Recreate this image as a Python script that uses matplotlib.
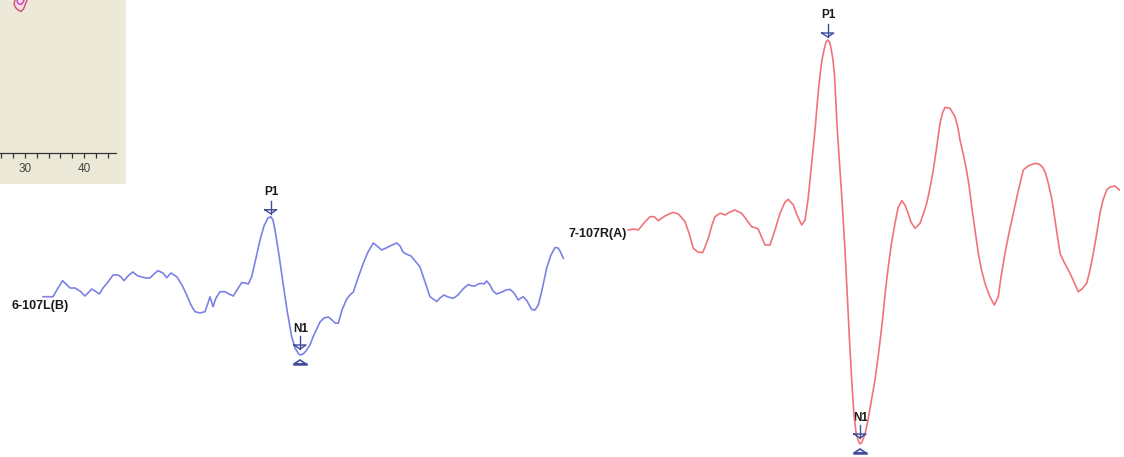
import matplotlib
matplotlib.use('Agg')
import matplotlib.pyplot as plt
import numpy as np

# Trace samples, in screen units (y grows downwards)
blue_x = [43, 53, 58, 62.7, 66, 70, 75, 80, 85, 88, 91.7, 95, 99.3, 103, 108, 113, 118, 121, 124,
          128, 132.7, 138, 142, 146, 150, 154, 158, 163, 166.7, 171, 174, 177, 182, 186.7, 191, 195,
          200, 205, 208, 210, 213, 216, 220, 225, 229, 233.3, 237, 241.7, 245, 248.3, 251.7, 256, 260,
          264, 268, 270.7, 273, 275, 279, 283, 287, 291.7, 295, 298, 300, 303, 306, 310, 313, 316.7,
          320, 324, 328.3, 332, 335, 338.3, 342, 346.7, 350, 353.3, 358, 363.3, 368, 373.3, 377,
          381.7, 386, 390, 396.7, 400, 403, 406, 411, 415, 420, 425, 430, 436.7, 440, 444, 448, 453.3,
          458, 463, 468.3, 472, 475, 478, 481.7, 484, 486.7, 490, 493, 496.7, 502, 506, 510, 514,
          518.3, 521, 523.3, 527, 531.7, 535, 538.3, 542, 546.7, 551, 555, 558, 560, 563.3]
blue_y = [296.7, 296.7, 288, 280.7, 284, 288, 288, 291, 296, 293, 289, 291, 294, 288, 282, 275, 275,
          277, 280.7, 276, 272, 276, 277, 278, 278, 274, 270.7, 273, 277.7, 273, 275, 277, 285, 295,
          305, 311.7, 313, 311.7, 303, 296.7, 306.7, 298, 291.7, 291.7, 294, 296, 290, 282.7, 283,
          284, 276.7, 258, 240, 226, 218, 216.7, 220, 230, 255, 283, 310, 336.7, 348, 353, 355, 354,
          351, 345, 337, 329, 322, 318, 317, 320, 323, 323.3, 310, 299, 295, 292, 278, 263.3, 252,
          243, 246, 250, 248, 246, 243, 246, 252, 254, 256, 260.7, 267, 282, 296.7, 301.5, 298, 295,
          297, 298.3, 295, 289, 284.5, 286, 286, 284, 283.3, 284, 281, 285, 291, 294, 292, 290,
          289.3, 293, 300, 298, 296.7, 301, 309.5, 310, 305, 290, 268, 255, 247.5, 248, 251, 258.3]

red_x = [628.3, 633.3, 638.3, 644, 650, 654.3, 658.3, 662, 665, 669, 673.3, 678.3, 682, 685, 689,
         693.3, 698, 702.7, 705, 708.3, 712, 715, 720, 723, 725, 730, 735, 741.7, 746, 751.7, 756,
         758.3, 762, 765, 770, 775, 780, 785, 788.3, 793.3, 797, 801.7, 805, 808, 810, 813, 815,
         818, 820, 822, 824, 826, 827.7, 829.5, 831, 833, 834.5, 837.3, 840, 842, 845, 847, 849.5,
         851.7, 854, 856, 858, 860, 862, 865, 868, 871.5, 875, 879, 882.7, 885.5, 888.3, 891.5,
         895, 898, 901.7, 905, 908, 911, 915, 920, 923, 926.7, 930, 933.3, 937, 940, 942.5, 945,
         950, 955, 958, 960, 963, 966, 969, 971.7, 975, 978.3, 981.5, 985, 990, 994.3, 998.3,
         1001, 1005, 1009, 1013.3, 1018, 1023.3, 1028, 1035, 1039, 1042.7, 1045.5, 1048.3, 1052,
         1055, 1058, 1060, 1064, 1070, 1074, 1078.3, 1082, 1086.7, 1090, 1093.3, 1097, 1100, 1103,
         1106.7, 1110, 1115, 1119.3]
red_y = [230, 229, 230, 223, 216.7, 216.7, 220.7, 218, 216, 214, 212.3, 214, 218, 221.7, 233, 248.3,
         252, 252.7, 247, 238.3, 225, 216.7, 213.3, 214, 215, 212, 210, 213.3, 219, 226.7, 228,
         229.3, 238, 245, 245, 230, 213.3, 202, 199.3, 205, 215, 225, 220, 200, 180, 150, 130, 95,
         75, 60, 50, 42, 40, 42, 48, 60, 75, 130, 170, 200, 250, 290, 340, 380, 415, 432, 440, 444,
         442, 434, 420, 400, 380, 350, 318.3, 290, 266.7, 243, 223.3, 208, 200.7, 205, 213, 222,
         228.3, 223.3, 215, 203.3, 188, 170, 145, 123.3, 113, 107.3, 108.3, 116.7, 128, 140, 153,
         167.3, 185, 206.7, 230, 253.3, 270, 283.3, 297, 305, 296.7, 277, 253.3, 233, 213.3, 192,
         170, 166, 163.3, 164, 167.3, 173, 183.3, 200, 220, 240, 253.3, 262, 273.3, 282, 291.7,
         289, 283.3, 270, 253.3, 232, 213.3, 200, 190, 187, 186, 190]

blue_name = "6-107L(B)"
red_name = "7-107R(A)"

# partial map contour peeking in at the corner of the side panel
contour_x = [15, 14, 15.5, 18, 21, 23.5, 25.5, 27]
contour_y = [0, 4, 7.5, 10, 11.5, 9, 4, 0]
core_x = [17, 17.5, 19, 21, 23, 24]
core_y = [0, 2.5, 4, 4.5, 2.5, 0]

panel_ticks_major = [30, 40]
panel_ticks_minor = [26, 28, 32, 34, 36, 38, 42, 44]

BLUE = "#7b82e4"
RED = "#f0737c"
MARK = "#3f4c9c"
TXT = "#1a1a1a"

W, H = 1124, 457
fig = plt.figure(figsize=(W / 100, H / 100), dpi=100)
fig.patch.set_facecolor("white")

# side panel (beige, only its lower right corner visible)
px0, pw, ph = 0, 126, 184
pan = fig.add_axes([px0 / W, 1 - ph / H, pw / W, ph / H])
pan.set_facecolor("#ece9d8")
pan.set_xlim(25.76, 25.76 + pw / 5.9)
pan.set_ylim(0, 1)
for s in ["top", "left", "right"]:
    pan.spines[s].set_visible(False)
pan.spines["bottom"].set_position(("axes", (ph - 153) / ph))
pan.spines["bottom"].set_bounds(25.76, 45.4)
pan.spines["bottom"].set_color("#333333")
pan.spines["bottom"].set_linewidth(0.9)
pan.set_yticks([])
pan.set_xticks(panel_ticks_major)
pan.set_xticklabels([str(t) for t in panel_ticks_major])
pan.set_xticks(panel_ticks_minor, minor=True)
pan.tick_params(axis="x", which="both", direction="out", length=3.5, width=0.9,
                color="#333333", labelsize=8.5, labelcolor="#444444", pad=3.5)
for lab in pan.get_xticklabels():
    lab.set_fontfamily("Liberation Sans")

# main drawing area
ax = fig.add_axes([0, 0, 1, 1])
ax.set_xlim(0, W)
ax.set_ylim(H, 0)
ax.axis("off")
ax.patch.set_alpha(0)

ax.fill(contour_x, contour_y, color="#f7d8e6", zorder=2)
ax.plot(contour_x, contour_y, color="#d2506a", lw=1.0, zorder=3)
ax.plot(core_x, core_y, color="#c040c8", lw=1.0, zorder=3)

ax.plot(blue_x, blue_y, color=BLUE, lw=1.2, solid_joinstyle="round", zorder=4)
ax.plot(red_x, red_y, color=RED, lw=1.2, solid_joinstyle="round", zorder=4)

font = dict(family=["Liberation Sans", "DejaVu Sans"], color=TXT, fontweight="bold")
ax.text(blue_x[0] - 31, blue_y[0] + 9.5, blue_name, fontsize=9, ha="left", va="center", **font)
ax.text(red_x[0] - 1.5, red_y[0] + 4, red_name, fontsize=9, ha="right", va="center", **font)


def down_arrow(x, y):
    # stem plus open head pointing at the peak
    ax.plot([x, x], [y - 16, y - 3], color=MARK, lw=1.0, zorder=5)
    ax.plot([x - 6, x + 6, x, x - 6], [y - 7, y - 7, y - 3, y - 7], color=MARK, lw=1.0, zorder=5)


def up_triangle(x, y):
    ax.fill([x - 6, x + 6, x], [y + 9, y + 9, y + 5], facecolor="none", edgecolor=MARK,
            lw=1.2, zorder=5)
    ax.plot([x - 6, x + 6], [y + 9, y + 9], color=MARK, lw=1.8, zorder=5)


for xs, ys in [(blue_x, blue_y), (red_x, red_y)]:
    ip = int(np.argmin(ys))
    iN = int(np.argmax(ys))
    down_arrow(xs[ip], ys[ip])
    ax.text(xs[ip] + 1, ys[ip] - 25, "P1", fontsize=8.5, ha="center", va="center", **font)
    down_arrow(xs[iN], ys[iN] - 3)
    up_triangle(xs[iN], ys[iN])
    ax.text(xs[iN] + 1, ys[iN] - 26, "N1", fontsize=8.5, ha="center", va="center", **font)

fig.savefig("out.png", dpi=100)
